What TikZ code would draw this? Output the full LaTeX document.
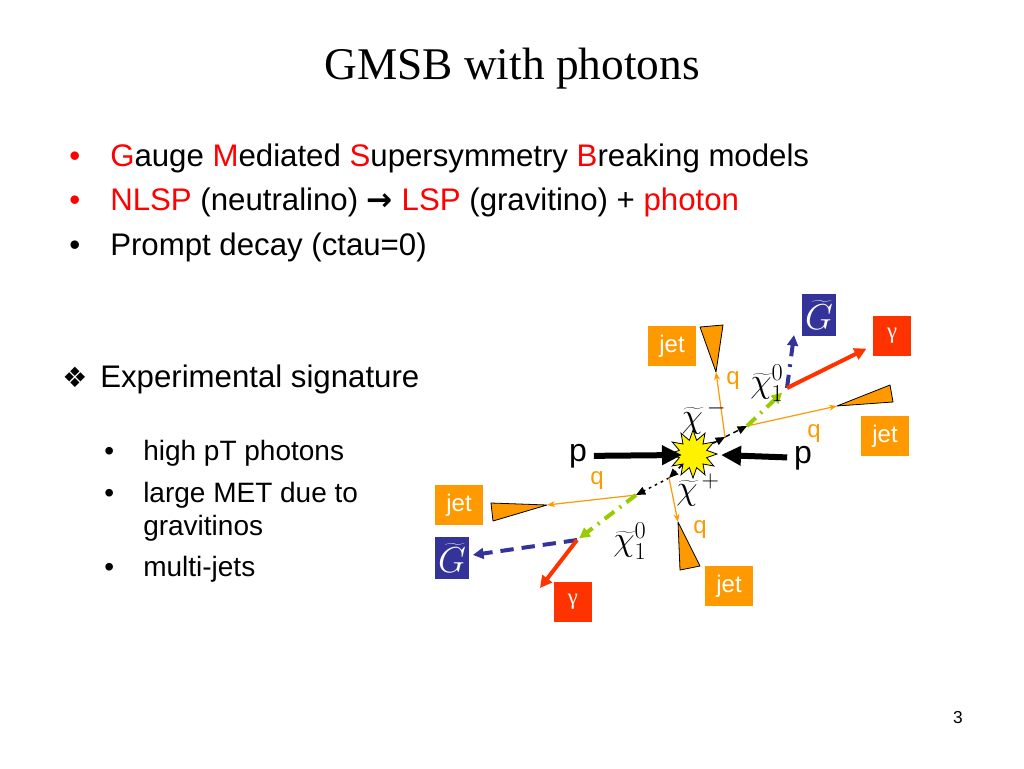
\RequirePackage{fix-cm}
\documentclass[tikz,border=0pt]{standalone}
\usepackage{fontspec}
\setmainfont{Liberation Sans}
\newfontfamily\titlefont{Liberation Serif}
\newfontfamily\symbfont{DejaVu Sans}
\usetikzlibrary{arrows.meta,shapes.geometric,positioning}
\definecolor{jetorange}{RGB}{255,153,0}
\definecolor{gamred}{RGB}{255,51,0}
\definecolor{gravblue}{RGB}{51,51,153}
\definecolor{chigreen}{RGB}{153,204,0}
\newcommand{\chit}{\widetilde{\chi}}
\newcommand{\Gt}{\widetilde{G}}

\tikzset{
  bigtxt/.style={anchor=base west,inner sep=0pt,font=\fontsize{23.4}{28}\selectfont},
  smalltxt/.style={anchor=base west,inner sep=0pt,font=\fontsize{21}{25}\selectfont},
  jetbox/.style={fill=jetorange,text=white,inner sep=0pt,minimum width=35.5pt,minimum height=30pt,font=\fontsize{18}{20}\selectfont},
  gravbox/.style={fill=gravblue,text=white,inner sep=0pt,minimum width=25pt,minimum height=32pt,font=\fontsize{27}{27}\selectfont},
  gambox/.style={fill=gamred,text=white,inner sep=0pt,minimum width=29pt,minimum height=30pt,font=\titlefont\fontsize{17}{17}\selectfont},
  jetcone/.style={fill=jetorange,draw=black,line width=0.6pt,line join=round},
  quark/.style={draw=jetorange,line width=0.9pt,-{Stealth[length=6pt,width=4.5pt]}},
  qlabel/.style={text=jetorange,inner sep=0pt,font=\fontsize{18}{18}\selectfont},
  plabel/.style={inner sep=0pt,font=\fontsize{24}{24}\selectfont},
  chilabel/.style={inner sep=0pt,font=\fontsize{26}{26}\selectfont},
  chargino/.style={draw=black,line width=1.1pt,dash pattern=on 4pt off 3pt,-{Triangle[length=7pt,width=6pt]}},
  neutralino/.style={draw=chigreen,line width=3pt,dash pattern=on 9pt off 5pt on 1.5pt off 5pt,-{Triangle[length=8pt,width=8pt]}},
  gravitino/.style={draw=gravblue,line width=3pt,-{Triangle[length=8pt,width=8pt]}},
  photon/.style={draw=gamred,line width=3pt,-{Triangle[length=9pt,width=9pt]}},
  beam/.style={draw=black,line width=4.5pt,-{Triangle[length=15pt,width=14pt]}},
  burst/.style={star,star points=12,star point ratio=1.7,minimum size=36pt,inner sep=0pt,fill=yellow,draw=black,line width=0.6pt}
}

\begin{document}
\begin{tikzpicture}[x=0.75pt,y=-0.75pt]
\useasboundingbox (0,0) rectangle (1024,768);
\fill[white] (0,0) rectangle (1024,768);

% title and bullets
\node[font=\titlefont\fontsize{34}{40}\selectfont] (title) at (512,69) {GMSB with photons};
\node[bigtxt,text=red] (d1) at (69,166) {•};
\node[bigtxt] (l1) at (110,166) {\textcolor{red}{G}auge \textcolor{red}{M}ediated \textcolor{red}{S}upersymmetry \textcolor{red}{B}reaking models};
\node[bigtxt,text=red] (d2) at (69,210) {•};
\node[bigtxt] (l2) at (110,210) {\textcolor{red}{NLSP} (neutralino) {\symbfont\bfseries →} \textcolor{red}{LSP} (gravitino) + \textcolor{red}{photon}};
\node[bigtxt] (d3) at (69,255) {•};
\node[bigtxt] (l3) at (110,255) {Prompt decay (ctau=0)};

\node[bigtxt] (d4) at (62,387) {\symbfont\fontsize{21}{25}\selectfont ❖};
\node[bigtxt] (l4) at (100,387) {Experimental signature};
\node[smalltxt] (s1) at (104,460) {•};
\node[smalltxt] (t1) at (143,460) {high pT photons};
\node[smalltxt] (s2) at (104,502) {•};
\node[smalltxt] (t2) at (143,502) {large MET due to};
\node[smalltxt] (t3) at (143,535) {gravitinos};
\node[smalltxt] (s3) at (104,576) {•};
\node[smalltxt] (t4) at (143,576) {multi-jets};

\node[font=\fontsize{13}{13}\selectfont] (pgnum) at (958,718) {3};

% collision
\node[burst] (hit) at (693,454) {};
\node[plabel] (pL) at (578,456) {p};
\node[plabel] (pR) at (803,458) {p};
\coordinate (tipL) at (682,455);
\coordinate (tipR) at (721,455);
\draw[beam,shorten <=5pt] (pL) -- (tipL);
\draw[beam,shorten <=5pt] (pR) -- (tipR);

% upper branch
\coordinate (bu) at (725,437);
\coordinate (vu) at (747,426);
\coordinate (du) at (787,388);
\coordinate (jA) at (716,372);
\coordinate (jB) at (837,406);
\coordinate (gU) at (794,335);
\draw[chargino] (hit) -- (bu);
\draw[chargino] (bu) -- (vu);
\draw[quark] (bu) -- (jA);
\draw[quark] (vu) -- (jB);
\draw[neutralino,shorten >=5pt] (vu) -- (du);
\draw[gravitino,dash pattern=on 10pt off 6pt on 2pt off 6pt] (du) -- (gU);
\node[gambox] (gamU) at (892,336) {γ};
\draw[photon,shorten >=5pt] (du) -- (gamU);
\filldraw[jetcone] (jA) -- ++(-16,-45) -- ++(23,-2) -- cycle;
\filldraw[jetcone] (jB) -- ++(53,-21) -- ++(3,17) -- cycle;
\node[jetbox] (jetA) at (672,346) {jet};
\node[jetbox] (jetB) at (885,436) {jet};
\node[gravbox] (gravU) at (819,315) {$\Gt$};
\node[chilabel] (chim) at (704,417) {$\chit^{\,-}$};
\node[chilabel] (chiU) at (767,383) {$\chit_1^0$};
\node[qlabel] (qA) at (733,381) {q};
\node[qlabel] (qB) at (814,434) {q};

% lower branch
\coordinate (bl) at (669,478);
\coordinate (vl) at (636,495);
\coordinate (dl) at (577,540);
\coordinate (jC) at (547,505);
\coordinate (jD) at (678,522);
\coordinate (gamtip) at (540,588);
\draw[chargino] (hit) -- (bl);
\draw[chargino,dash pattern=on 2pt off 3pt] (bl) -- (vl);
\draw[quark] (vl) -- (jC);
\draw[quark] (bl) -- (jD);
\draw[neutralino,shorten >=2pt] (vl) -- (dl);
\node[gravbox] (gravL) at (452,558) {$\Gt$};
\draw[gravitino,dash pattern=on 10pt off 6pt,shorten >=3pt] (dl) -- (gravL);
\draw[photon] (dl) -- (gamtip);
\filldraw[jetcone] (jC) -- ++(-56,-2) -- ++(2,18) -- cycle;
\filldraw[jetcone] (jD) -- ++(2,48) -- ++(20,-4) -- cycle;
\node[jetbox] (jetC) at (459,505) {jet};
\node[jetbox] (jetD) at (729,586) {jet};
\node[gambox] (gamL) at (573,602) {γ};
\node[chilabel] (chip) at (698,490) {$\chit^{\,+}$};
\node[chilabel] (chiL) at (630,541) {$\chit_1^0$};
\node[qlabel] (qC) at (597,481) {q};
\node[qlabel] (qD) at (700,530) {q};
\end{tikzpicture}
\end{document}
